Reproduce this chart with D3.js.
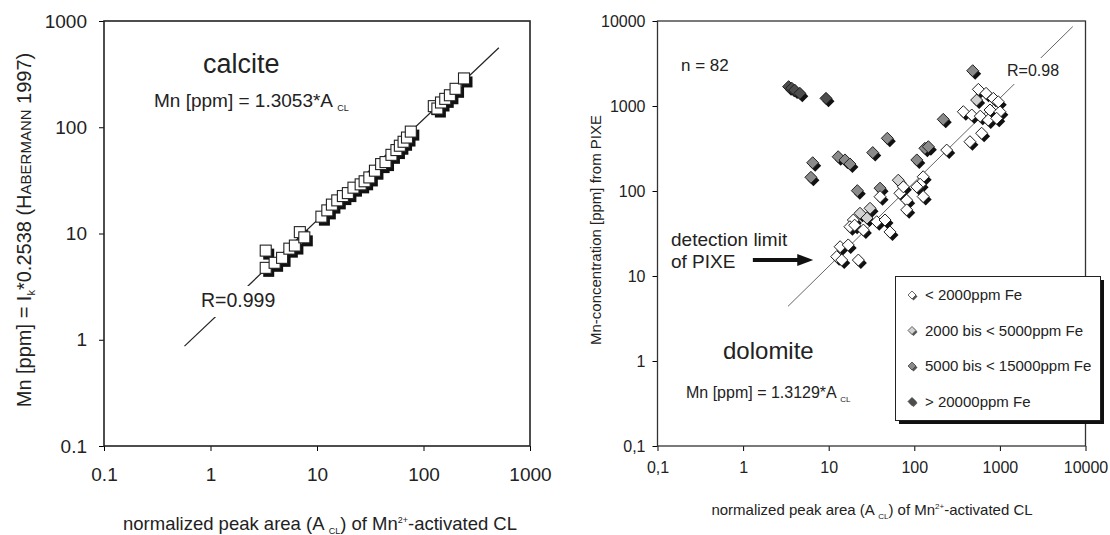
<!DOCTYPE html>
<html>
<head>
<meta charset="utf-8">
<script src="https://cdn.jsdelivr.net/npm/d3@7"></script>
<style>
  body { margin: 0; background: #fff; }
  text { font-family: Arial, "Liberation Sans", sans-serif; fill: #222; }
</style>
</head>
<body>
<div id="chart"></div>
<script>
// calcite: normalized peak area vs Mn (ppm)
const calciteA  = [3.3, 3.3, 4.0, 4.7, 5.5, 6.2, 6.9, 7.6, 11, 12.5, 13.8, 15.5, 17.5, 19.5, 22, 25.7, 28, 31, 35, 40, 44, 50, 55.7, 60, 65, 70, 76, 125, 135, 146, 160, 177, 200, 240];
const calciteMn = [6.9, 4.75, 5.3, 5.9, 7.2, 7.7, 10.3, 9.2, 14.4, 16.5, 18.7, 20.5, 22.5, 24, 27, 29, 31, 33.7, 39, 45, 47, 55, 61, 67, 73, 80, 91, 158, 150, 171, 185, 200, 230, 288];

// dolomite: peak area, Mn from PIXE, Fe class (index into feLabels)
const dolomiteA  = [3.4, 3.7, 4.0, 4.6, 9.3,
  6.5, 6.2, 12.9, 15.5, 17.7, 32.7, 48.4, 21.6, 39.8, 218, 481, 133, 146, 107,
  535, 30.4, 23.2, 65,
  19.4, 17.7, 25.4, 36.4, 45.5, 52, 13.6, 16.9, 12.4, 14.2, 22.2, 39.8, 68, 81.5, 127, 127, 117, 74.5, 81.5,
  239, 447, 612, 374, 469, 590, 766, 1000, 731, 918, 560, 689, 838, 956, 20.1, 28, 107];
const dolomiteMn = [1690, 1620, 1540, 1410, 1230,
  215, 145, 253, 232, 208, 283, 417, 101, 108, 697, 2600, 318, 332, 232,
  1175, 62.6, 54.7, 134,
  45.6, 38, 34.7, 43.5, 45.6, 33, 22.1, 23.2, 16.9, 15.4, 15.4, 85.7, 94, 78, 86, 147, 120, 112, 60,
  303, 380, 478, 857, 783, 760, 897, 857, 684, 716, 1570, 1410, 1230, 1122, 39.6, 48, 112];
const dolomiteFe = [3, 3, 3, 3, 3,
  2, 2, 2, 2, 2, 2, 2, 2, 2, 2, 2, 2, 2, 2,
  1, 1, 1, 1,
  0, 0, 0, 0, 0, 0, 0, 0, 0, 0, 0, 0, 0, 0, 0, 0, 0, 0, 0,
  0, 0, 0, 0, 0, 0, 0, 0, 0, 0, 0, 0, 0, 0, 0, 1, 0];

const feLabels = ["< 2000ppm Fe", "2000 bis < 5000ppm Fe", "5000 bis < 15000ppm Fe", "> 20000ppm Fe"];
const feFills  = ["#ffffff", "#d2d2d2", "#8a8a8a", "#4d4d4d"];

const calciteTicks  = [0.1, 1, 10, 100, 1000];
const dolomiteTicks = [0.1, 1, 10, 100, 1000, 10000];

// regression lines (end points)
const calciteFitA  = [0.57, 510];
const calciteFitMn = [0.87, 560];
const dolomiteFitA  = [3.35, 7100];
const dolomiteFitMn = [4.4, 8600];

// detection limit arrow
const arrowA = [1.3, 6.6];
const detectionLimit = 15.4;

const calcite  = calciteA.map((a, i) => ({ a, mn: calciteMn[i] }));
const dolomite = dolomiteA.map((a, i) => ({ a, mn: dolomiteMn[i], fe: dolomiteFe[i] }));

const svg = d3.select("#chart").append("svg")
    .attr("width", 1110)
    .attr("height", 535);

// ---------- left panel: calcite ----------
const xL = d3.scaleLog().domain([0.1, 1000]).range([104, 530]);
const yL = d3.scaleLog().domain([0.1, 1000]).range([446, 21]);

const fmtL = d => d < 1 ? "0.1" : d;

svg.append("g")
    .attr("transform", "translate(0,446)")
    .call(d3.axisBottom(xL).tickValues(calciteTicks).tickFormat(fmtL).tickSize(5).tickPadding(17))
    .call(g => g.select(".domain").remove())
    .selectAll("text").style("font-size", "19px").attr("fill", "#222");

svg.append("g")
    .attr("transform", "translate(104,0)")
    .call(d3.axisLeft(yL).tickValues(calciteTicks).tickFormat(fmtL).tickSize(5).tickPadding(12))
    .call(g => g.select(".domain").remove())
    .selectAll("text").style("font-size", "19px").attr("fill", "#222");

svg.append("rect")
    .attr("x", 104).attr("y", 21)
    .attr("width", 426).attr("height", 425)
    .attr("fill", "none").attr("stroke", "#222").attr("stroke-width", 1.6);

// fit line
svg.append("line")
    .attr("x1", xL(calciteFitA[0])).attr("y1", yL(calciteFitMn[0]))
    .attr("x2", xL(calciteFitA[1])).attr("y2", yL(calciteFitMn[1]))
    .attr("stroke", "#222").attr("stroke-width", 1.2);

// gap in the line behind the R label
svg.append("rect").attr("x", 198).attr("y", 286).attr("width", 84).attr("height", 31).attr("fill", "#fff");
svg.append("text").attr("x", 201).attr("y", 307).style("font-size", "19.5px").text("R=0.999");

// markers with shadow
svg.append("g").selectAll("rect")
    .data(calcite).join("rect")
    .attr("x", d => xL(d.a) - 5.5 + 3)
    .attr("y", d => yL(d.mn) - 5.5 + 3.5)
    .attr("width", 11).attr("height", 11)
    .attr("fill", "#111");

svg.append("g").selectAll("rect")
    .data(calcite).join("rect")
    .attr("x", d => xL(d.a) - 5.5)
    .attr("y", d => yL(d.mn) - 5.5)
    .attr("width", 11).attr("height", 11)
    .attr("fill", "#fff").attr("stroke", "#222").attr("stroke-width", 1.1);

svg.append("text").attr("x", 203).attr("y", 73).style("font-size", "27px").text("calcite");

const eqL = svg.append("text").attr("x", 154).attr("y", 107).style("font-size", "19px");
eqL.append("tspan").text("Mn [ppm] = 1.3053*A ");
eqL.append("tspan").attr("dy", 4).style("font-size", "9px").text("CL");

// axis titles
const yTitleL = svg.append("text")
    .attr("transform", "translate(31,230) rotate(-90)")
    .attr("text-anchor", "middle")
    .style("font-size", "20px");
yTitleL.append("tspan").text("Mn [ppm] = I");
yTitleL.append("tspan").attr("dy", 4).style("font-size", "11px").text("k");
yTitleL.append("tspan").attr("dy", -4).text("*0.2538 (H");
yTitleL.append("tspan").style("font-size", "15px").text("ABERMANN");
yTitleL.append("tspan").text(" 1997)");

const xTitleL = svg.append("text")
    .attr("x", 320).attr("y", 530)
    .attr("text-anchor", "middle")
    .style("font-size", "18.5px");
xTitleL.append("tspan").text("normalized peak area (A ");
xTitleL.append("tspan").attr("dy", 4).style("font-size", "9px").text("CL");
xTitleL.append("tspan").attr("dy", -4).text(") of Mn");
xTitleL.append("tspan").attr("dy", -7).style("font-size", "9px").text("2+");
xTitleL.append("tspan").attr("dy", 7).text("-activated CL");

// ---------- right panel: dolomite ----------
const xR = d3.scaleLog().domain([0.1, 10000]).range([657.5, 1085.5]);
const yR = d3.scaleLog().domain([0.1, 10000]).range([446, 21]);

const fmtR = d => d < 1 ? "0,1" : d;

svg.append("g")
    .attr("transform", "translate(0,446)")
    .call(d3.axisBottom(xR).tickValues(dolomiteTicks).tickFormat(fmtR).tickSize(5).tickPadding(11))
    .call(g => g.select(".domain").remove())
    .selectAll("text").style("font-size", "16px").attr("fill", "#222");

svg.append("g")
    .attr("transform", "translate(657.5,0)")
    .call(d3.axisLeft(yR).tickValues(dolomiteTicks).tickFormat(fmtR).tickSize(5).tickPadding(7))
    .call(g => g.select(".domain").remove())
    .selectAll("text").style("font-size", "16px").attr("fill", "#222");

svg.append("rect")
    .attr("x", 657.5).attr("y", 21)
    .attr("width", 428).attr("height", 425)
    .attr("fill", "none").attr("stroke", "#333").attr("stroke-width", 1.3);

svg.append("line")
    .attr("x1", xR(dolomiteFitA[0])).attr("y1", yR(dolomiteFitMn[0]))
    .attr("x2", xR(dolomiteFitA[1])).attr("y2", yR(dolomiteFitMn[1]))
    .attr("stroke", "#666").attr("stroke-width", 1);

svg.append("rect").attr("x", 1003).attr("y", 58).attr("width", 60).attr("height", 26).attr("fill", "#fff");
svg.append("text").attr("x", 1007).attr("y", 76).style("font-size", "16px").text("R=0.98");

const diamond = r => `M0,${-r}L${r},0L0,${r}L${-r},0Z`;

svg.append("g").selectAll("path")
    .data(dolomite).join("path")
    .attr("d", diamond(6))
    .attr("transform", d => `translate(${xR(d.a) + 2.5},${yR(d.mn) + 3})`)
    .attr("fill", "#111");

svg.append("g").selectAll("path")
    .data(dolomite).join("path")
    .attr("d", diamond(6))
    .attr("transform", d => `translate(${xR(d.a)},${yR(d.mn)})`)
    .attr("fill", d => feFills[d.fe])
    .attr("stroke", "#222").attr("stroke-width", 1);

svg.append("text").attr("x", 681).attr("y", 71).style("font-size", "17px").text("n = 82");

// detection limit annotation
svg.append("text").attr("x", 671).attr("y", 246).style("font-size", "19px").text("detection limit");
svg.append("text").attr("x", 671).attr("y", 268).style("font-size", "19px").text("of PIXE");
svg.append("line")
    .attr("x1", xR(arrowA[0])).attr("y1", yR(detectionLimit))
    .attr("x2", xR(arrowA[1]) - 12).attr("y2", yR(detectionLimit))
    .attr("stroke", "#111").attr("stroke-width", 4);
svg.append("path")
    .attr("d", `M${xR(arrowA[1])},${yR(detectionLimit)}l-16,-6l0,12Z`)
    .attr("fill", "#111");

svg.append("text").attr("x", 723).attr("y", 359).style("font-size", "24px").text("dolomite");
const eqR = svg.append("text").attr("x", 686).attr("y", 398).style("font-size", "16px");
eqR.append("tspan").text("Mn [ppm] = 1.3129*A ");
eqR.append("tspan").attr("dy", 4).style("font-size", "8px").text("CL");

// legend
svg.append("rect").attr("x", 899).attr("y", 280).attr("width", 205).attr("height", 144).attr("fill", "#111");
svg.append("rect").attr("x", 895.5).attr("y", 276.5).attr("width", 205).attr("height", 144)
    .attr("fill", "#fff").attr("stroke", "#222").attr("stroke-width", 1);

const legend = svg.append("g").selectAll("g")
    .data(feLabels).join("g")
    .attr("transform", (d, i) => `translate(912,${295 + i * 35.5})`);
legend.append("path").attr("d", diamond(4)).attr("transform", "translate(1.5,1.5)").attr("fill", "#555");
legend.append("path").attr("d", diamond(4))
    .attr("fill", (d, i) => feFills[i]).attr("stroke", "#444").attr("stroke-width", 0.8);
legend.append("text").attr("x", 13).attr("dy", "0.36em").style("font-size", "15px").text(d => d);

// axis titles
svg.append("text")
    .attr("transform", "translate(601,230) rotate(-90)")
    .attr("text-anchor", "middle")
    .style("font-size", "15px")
    .text("Mn-concentration [ppm] from PIXE");

const xTitleR = svg.append("text")
    .attr("x", 872).attr("y", 515)
    .attr("text-anchor", "middle")
    .style("font-size", "15px");
xTitleR.append("tspan").text("normalized peak area (A ");
xTitleR.append("tspan").attr("dy", 4).style("font-size", "8px").text("CL");
xTitleR.append("tspan").attr("dy", -4).text(") of Mn");
xTitleR.append("tspan").attr("dy", -6).style("font-size", "8px").text("2+");
xTitleR.append("tspan").attr("dy", 6).text("-activated CL");
</script>
</body>
</html>
